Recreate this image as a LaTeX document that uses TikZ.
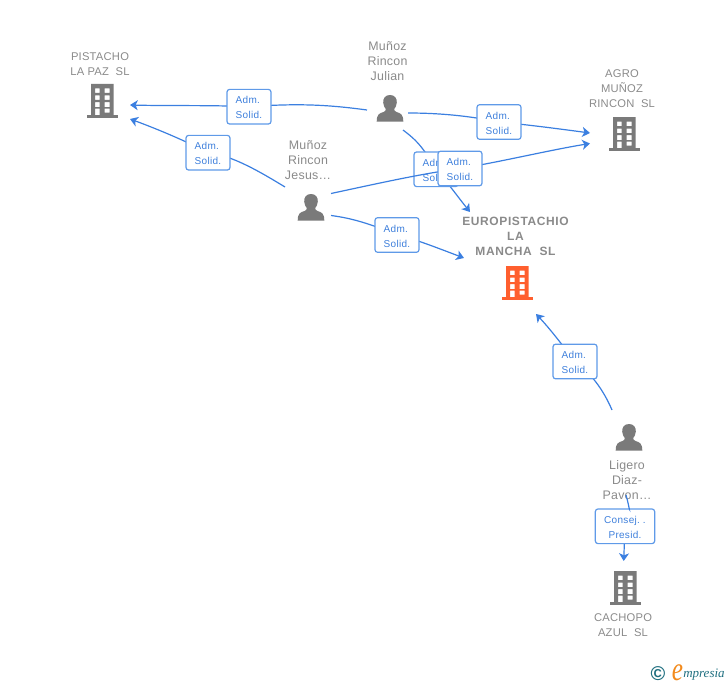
\documentclass[tikz,border=0pt]{standalone}
\usepackage{fontspec}
\usepackage{graphicx}
\setmainfont{Liberation Sans}
\newfontfamily\logofont{Liberation Serif}
\usetikzlibrary{arrows.meta}
\definecolor{conn}{HTML}{3B7FE0}
\definecolor{lblline}{HTML}{5F9AE8}
\definecolor{lbltext}{HTML}{3F80DC}
\definecolor{txtgray}{HTML}{8A8A8A}
\definecolor{icongray}{HTML}{7A7A7A}
\definecolor{iconorange}{HTML}{FF5F2E}
\definecolor{logoteal}{HTML}{1F6F80}
\definecolor{logoorange}{HTML}{F28A1C}
\pgfdeclarelayer{la}\pgfdeclarelayer{lb}\pgfdeclarelayer{lc}
\pgfsetlayers{la,lb,lc,main}
\newcommand{\lowered}{\rule{0pt}{7pt}}
\tikzset{
  x=0.75pt,y=-0.75pt,
  link/.style={draw=conn,line width=0.9pt,-{Stealth[length=5.8pt,width=7.5pt,inset=1.6pt]}},
  linkplain/.style={draw=conn,line width=0.9pt},
  tag/.style={draw=lblline,line width=0.9pt,fill=white,rounded corners=2pt,minimum width=33pt,minimum height=26pt,inner sep=0pt,align=left,text=lbltext,font=\fontsize{7.5}{11.2}\selectfont\addfontfeature{LetterSpace=3}},
  widetag/.style={tag,align=center,minimum width=44.5pt},
  persontext/.style={align=center,text=txtgray,inner sep=0pt,font=\fontsize{9.3}{11.25}\selectfont\addfontfeature{LetterSpace=2}},
  firm/.style={align=center,text=txtgray,inner sep=0pt,font=\fontsize{8.4}{11.1}\selectfont\addfontfeature{LetterSpace=2}},
  mainfirm/.style={align=center,text=txtgray,inner sep=0pt,font=\fontsize{9}{11.25}\selectfont\bfseries\addfontfeature{LetterSpace=5}},
  iconspot/.style={inner sep=0pt,minimum size=20pt},
  pics/building/.style={code={
    \fill[#1,even odd rule]
      (-11,-17) rectangle (11.5,15)
      (-7,-12.5) rectangle (-2.4,-8) (2.6,-12.5) rectangle (7.6,-8)
      (-7,-5.5) rectangle (-2.4,-1) (2.6,-5.5) rectangle (7.6,-1)
      (-7,1.2) rectangle (-2.4,6) (2.6,1.2) rectangle (7.6,6)
      (-7,7.5) rectangle (-2.4,15) (2.6,7.5) rectangle (7.6,11.7);
    \fill[#1] (-15.5,14.2) rectangle (16,17);
  }},
  pics/person/.style={code={
    \fill[icongray] (0,-13.5) .. controls (-4.8,-13.5) and (-7,-10) .. (-6.8,-6)
      .. controls (-6.6,-3) and (-5.5,-0.8) .. (-4.2,0.5)
      .. controls (-4.2,2) and (-4.8,2.8) .. (-6.5,3.5)
      .. controls (-10.5,4.8) and (-13.3,5.5) .. (-13.3,13.2)
      -- (13.3,13.2)
      .. controls (13.3,5.5) and (10.5,4.8) .. (6.5,3.5)
      .. controls (4.8,2.8) and (4.2,2) .. (4.2,0.5)
      .. controls (5.5,-0.8) and (6.6,-3) .. (6.8,-6)
      .. controls (7,-10) and (4.8,-13.5) .. (0,-13.5) -- cycle;
  }},
}
\begin{document}
\begin{tikzpicture}
\useasboundingbox (0,0) rectangle (728,685);
% icons
\node[iconspot] (pistacho) at (102,101) {}; \pic at (pistacho) {building=icongray};
\node[iconspot] (agro) at (624,134) {}; \pic at (agro) {building=icongray};
\node[iconspot] (euro) at (517,283) {}; \pic at (euro) {building=iconorange};
\node[iconspot] (cachopo) at (625,588) {}; \pic at (cachopo) {building=icongray};
\node[iconspot] (julian) at (390,108.5) {}; \pic at (julian) {person};
\node[iconspot] (jesus) at (311,207.5) {}; \pic at (jesus) {person};
\node[iconspot] (ligero) at (629,437.5) {}; \pic at (ligero) {person};
% texts
\node[firm] (tpistacho) at (100,64) {PISTACHO\\LA PAZ\ \ SL};
\node[firm] (tagro) at (622,88.5) {AGRO\\MUÑOZ\\RINCON\ \ SL};
\node[mainfirm] (teuro) at (515.5,236) {EUROPISTACHIO\\LA\\MANCHA\ \ SL};
\node[firm] (tcachopo) at (623,625) {CACHOPO\\AZUL\ \ SL};
\node[persontext] (tjulian) at (387.5,61) {Muñoz\\Rincon\\Julian};
\node[persontext] (tjesus) at (308,160) {Muñoz\\Rincon\\Jesus\dots};
\begin{pgfonlayer}{la}
\node[persontext] (tligero) at (627,480) {Ligero\\Diaz-\\Pavon\dots};
\end{pgfonlayer}
% connector free ends
\coordinate (julianW) at (367,110);
\coordinate (julianE) at (408,113);
\coordinate (julianS) at (403,130);
\coordinate (jesusNW) at (285,187);
\coordinate (jesusE) at (331,193.5);
\coordinate (jesusSE) at (331,215.5);
\coordinate (ligeroN) at (612,410);
\coordinate (ligeroS) at (626,495);
\coordinate (pistachoE) at (130,105);
\coordinate (pistachoSE) at (130,119);
\coordinate (agroW) at (590,133);
\coordinate (agroWS) at (590,143.5);
\coordinate (euroN) at (470,212);
\coordinate (euroW) at (464,258);
\coordinate (euroS) at (536,314);
\coordinate (cachopoN) at (623.7,561);
% labels
\node[tag] (l1) at (249,106.7) {\lowered Adm.\\Solid.};
\node[tag] (l2) at (208,152.7) {\lowered Adm.\\Solid.};
\node[tag] (l3) at (499,122) {\lowered Adm.\\Solid.};
\begin{pgfonlayer}{lb}
\node[tag] (l5) at (436,169.3) {\lowered Adm.\\Solid.};
\end{pgfonlayer}
\node[tag] (l4) at (460,168.5) {\lowered Adm.\\Solid.};
\node[tag] (l6) at (397,235) {\lowered Adm.\\Solid.};
\node[tag] (l7) at (575,361.5) {\lowered Adm.\\Solid.};
\node[widetag] (l8) at (625,526.3) {\lowered Consej.\ .\\Presid.};
% connectors
\begin{pgfonlayer}{la}
\draw[linkplain] (julianW) .. controls (330,105) and (300,103) .. (l1.center);
\draw[link] (l1.center) .. controls (210,105) and (170,106) .. (pistachoE);
\draw[linkplain] (jesusNW) .. controls (262,173) and (232,155) .. (l2.center);
\draw[link] (l2.center) .. controls (190,143) and (160,130) .. (pistachoSE);
\draw[linkplain] (julianE) .. controls (440,113) and (470,116) .. (l3.center);
\draw[link] (l3.center) .. controls (530,125) and (560,129) .. (agroW);
\draw[linkplain] (julianS) .. controls (412,137) and (421,143) .. (l5.center);
\draw[link] (l5.center) .. controls (448,183) and (458,197) .. (euroN);
\draw[linkplain] (jesusSE) .. controls (346,217.5) and (364,221) .. (l6.center);
\draw[link] (l6.center) .. controls (412,238) and (435,247) .. (euroW);
\draw[linkplain] (ligeroN) .. controls (606,396) and (595,376) .. (l7.center);
\draw[link] (l7.center) .. controls (566,350) and (552,331) .. (euroS);
\draw[link] (l8.center) -- (cachopoN);
\end{pgfonlayer}
\draw[linkplain] (ligeroS) .. controls (628,502) and (630,512) .. (l8.north -| 629,0);
\begin{pgfonlayer}{lc}
\draw[linkplain] (jesusE) .. controls (380,183) and (420,174) .. (l4.center);
\draw[link] (l4.center) .. controls (500,162) and (550,150) .. (agroWS);
\end{pgfonlayer}
% logo
\node[inner sep=0pt,text=logoteal,font=\fontsize{15}{15}\selectfont\bfseries] (logoc) at (658,674) {©};
\node[inner sep=0pt,text=logoorange,font=\logofont\fontsize{14}{14}\selectfont\itshape] (logoe) at (677.5,673) {\scalebox{1.35}[1.8]{e}};
\node[inner sep=0pt,text=logoteal,anchor=west,font=\logofont\fontsize{9.75}{10}\selectfont\itshape] (logot) at (683,675) {mpresia};
\end{tikzpicture}
\end{document}
